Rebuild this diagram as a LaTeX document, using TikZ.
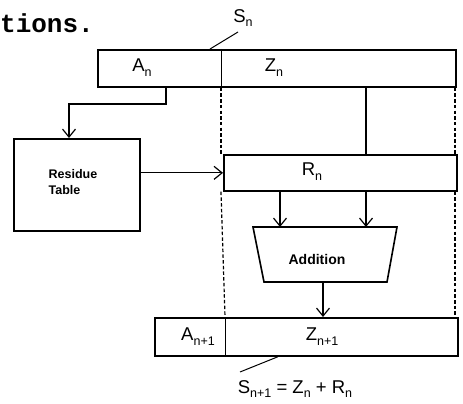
\documentclass[tikz,border=0pt]{standalone}
\usepackage{fontspec}
\setmainfont{Liberation Sans}
\newfontfamily\monofam{Liberation Mono}
\usetikzlibrary{arrows.meta}
\newcommand\sbs[1]{\raisebox{-0.5ex}{\fontsize{12.5}{12.5}\selectfont #1}}
\tikzset{
  reg/.style={draw, line width=1.7pt, inner sep=0pt, anchor=north west},
  lab/.style={inner sep=0pt, font=\fontsize{18.5}{18.5}\selectfont},
  small/.style={inner sep=0pt, font=\bfseries\fontsize{12.5}{16}\selectfont, align=left},
  wire/.style={line width=1.2pt},
  arr/.style={line width=1.2pt, -{Straight Barb[length=8pt,width=13pt,line width=1.2pt]}},
  thin/.style={line width=1pt},
  dsh/.style={line width=1.2pt, dash pattern=on 3.5pt off 2.2pt},
}
\begin{document}
\begin{tikzpicture}[x=1pt,y=-1pt]
\useasboundingbox (0,0) rectangle (463,404);
% fragment of page text
\node[inner sep=0pt, anchor=base west, font=\monofam\bfseries\fontsize{26}{26}\selectfont] (frag) at (0,33) {tions.};
% top register S_n
\node[reg, minimum width=358pt, minimum height=37pt] (Sn) at (97,49) {};
\coordinate (d1) at (221,0);
\draw[thin] (Sn.north -| d1) -- (Sn.south -| d1);
\node[lab] (An) at (142,68) {A\sbs{n}};
\node[lab] (Zn) at (274,68) {Z\sbs{n}};
\node[lab] (SnL) at (243,18) {S\sbs{n}};
\coordinate (snl) at (238,32);
\draw[thin] (snl) -- (Sn.north -| 210,0);
% residue table
\node[reg, minimum width=126pt, minimum height=92pt] (RT) at (13,138) {};
\node[small] (RTt) at (73,182) {Residue\\Table};
% R_n register
\node[reg, minimum width=233pt, minimum height=36pt] (Rn) at (223,154) {};
\node[lab] (RnL) at (312,172) {R\sbs{n}};
% addition
\coordinate (adtl) at (253,227);
\coordinate (adtr) at (397,227);
\coordinate (adbr) at (387,282);
\coordinate (adbl) at (264,282);
\draw[line width=1.6pt] (adtl) -- (adtr) -- (adbr) -- (adbl) -- cycle;
\node[small, font=\bfseries\fontsize{14}{16}\selectfont] (Ad) at (317,259) {Addition};
% bottom register S_{n+1}
\node[reg, minimum width=303pt, minimum height=38pt] (Sn1) at (154,317) {};
\coordinate (d2) at (225,0);
\draw[thin] (Sn1.north -| d2) -- (Sn1.south -| d2);
\node[lab] (An1) at (198,337) {A\sbs{n+1}};
\node[lab] (Zn1) at (322,337) {Z\sbs{n+1}};
\node[lab] (Sn1L) at (295,389) {S\sbs{n+1} = Z\sbs{n} + R\sbs{n}};
\coordinate (s1l) at (240,372);
\draw[thin] (Sn1.south -| 278,0) -- (s1l);
% connectors
\coordinate (ax) at (166,0);
\coordinate (rtx) at (69,0);
\draw[arr] (Sn.south -| ax) -- (ax |- 0,104) -- (rtx |- 0,104) -- (RT.north -| rtx);
\draw[arr] (RT.east |- Rn.west) -- (Rn.west);
\coordinate (zx) at (366,0);
\draw[wire] (Sn.south -| zx) -- (Rn.north -| zx);
\coordinate (c1) at (280,0);
\draw[arr] (Rn.south -| c1) -- (adtl -| c1);
\draw[arr] (Rn.south -| zx) -- (adtl -| zx);
\coordinate (c3) at (323,0);
\draw[arr] (adbl -| c3) -- (Sn1.north -| c3);
% dashed guides
\coordinate (r1) at (455,0);
\draw[dsh] (Sn.south -| d1) -- (Rn.north -| d1);
\draw[dsh] (Rn.south -| d1) -- (Sn1.north -| d2);
\draw[dsh] (Sn.south -| r1) -- (Rn.north -| r1);
\draw[dsh] (Rn.south -| r1) -- (Sn1.north -| r1);
\end{tikzpicture}
\end{document}
